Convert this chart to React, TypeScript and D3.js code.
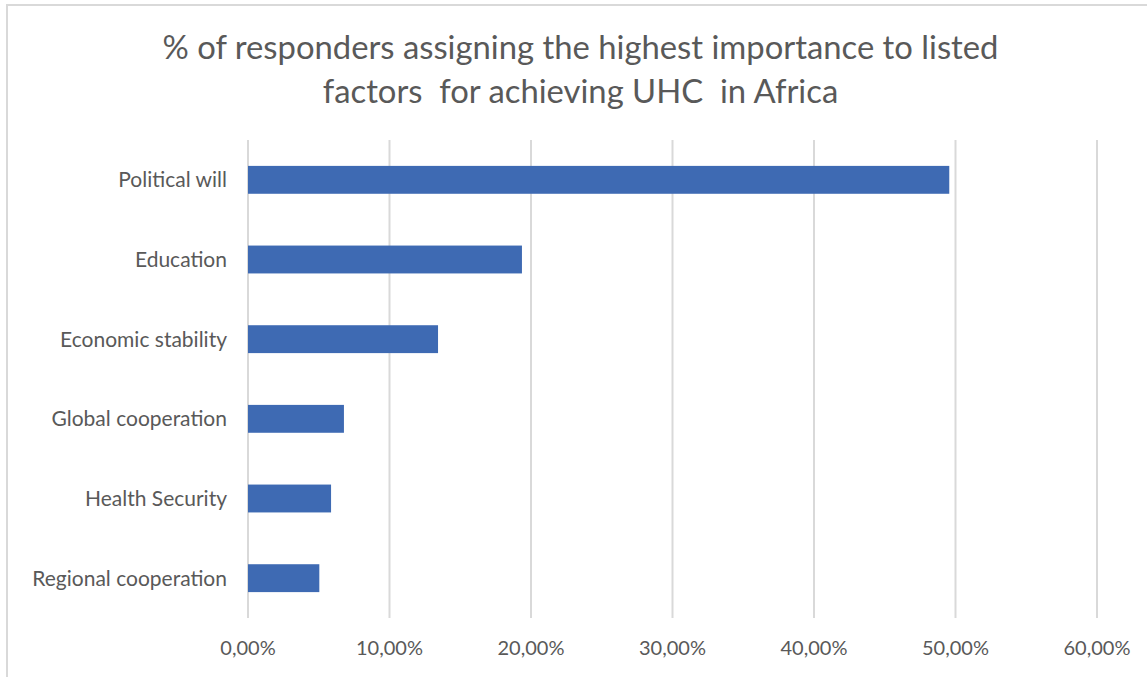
import React from "react";
import * as d3 from "d3";

const categories = [
  "Political will",
  "Education",
  "Economic stability",
  "Global cooperation",
  "Health Security",
  "Regional cooperation",
];
const values = [49.56, 19.36, 13.43, 6.78, 5.87, 5.04];
const ticks = [0, 10, 20, 30, 40, 50, 60];
const titleLines = [
  "% of responders assigning the highest importance to listed",
  "factors\u00a0 for achieving UHC\u00a0 in Africa",
];

const W = 1147;
const H = 677;
const FONT = "Lato, 'Open Sans', sans-serif";
const TEXT = "#595959";

export default function App() {
  const x = d3.scaleLinear().domain([0, 60]).range([248, 1097]);
  const y = d3
    .scaleBand<string>()
    .domain(categories)
    .range([140, 618])
    .paddingInner(0.65)
    .paddingOuter(0.325);
  const fmt = (v: number) => v.toFixed(2).replace(".", ",") + "%";

  return (
    <div style={{ position: "absolute", left: 0, top: 0 }}>
      <svg width={W} height={H} style={{ display: "block", background: "#fff" }}>
        <rect x={7} y={5} width={1150} height={690} fill="#fff" stroke="#D9D9D9" strokeWidth={2} />
        {titleLines.map((t, i) => (
          <text
            key={i}
            x={580.5}
            y={59 + i * 44}
            textAnchor="middle"
            fontFamily={FONT}
            fontSize={32.8}
            fill={TEXT}
          >
            {t}
          </text>
        ))}
        {ticks.map((t) => (
          <line
            key={t}
            x1={x(t)}
            x2={x(t)}
            y1={140}
            y2={618}
            stroke="#D9D9D9"
            strokeWidth={2}
          />
        ))}
        {categories.map((c, i) => (
          <rect
            key={c}
            x={x(0)}
            y={y(c)}
            width={x(values[i]) - x(0)}
            height={y.bandwidth()}
            fill="#3E6AB3"
          />
        ))}
        {categories.map((c) => (
          <text
            key={c}
            x={227}
            y={(y(c) as number) + y.bandwidth() / 2}
            dy="0.35em"
            textAnchor="end"
            fontFamily={FONT}
            fontSize={21}
            fill={TEXT}
          >
            {c}
          </text>
        ))}
        {ticks.map((t) => (
          <text
            key={t}
            x={x(t)}
            y={655}
            textAnchor="middle"
            fontFamily={FONT}
            fontSize={20}
            fill={TEXT}
          >
            {fmt(t)}
          </text>
        ))}
      </svg>
    </div>
  );
}
